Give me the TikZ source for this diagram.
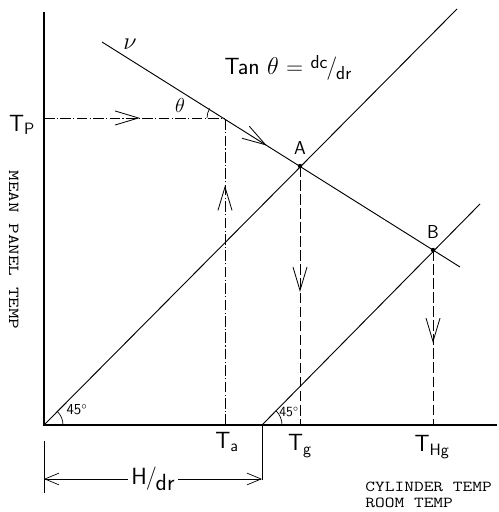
\documentclass[tikz,border=0pt]{standalone}
\usetikzlibrary{arrows.meta,decorations.markings}
\begin{document}
\begin{tikzpicture}[x=0.03cm,y=0.03cm,
      axis/.style={line width=1.1pt},
      curve/.style={line width=.8pt},
      proj/.style={line width=.7pt, dash pattern=on 9pt off 2pt on 1pt off 2pt},
      drop/.style={line width=.8pt, dash pattern=on 9pt off 3pt},
      lbl/.style={font=\fontsize{20}{22}\selectfont\sffamily},
      pt/.style={font=\fontsize{16}{18}\selectfont\sffamily},
      type/.style={font=\fontsize{13}{15}\selectfont\ttfamily, anchor=west},
      midarrow/.style={postaction={decorate,decoration={markings,
        mark=at position #1 with {\arrow{Straight Barb[length=20pt,width=12pt,line width=.7pt]}}}}}]
      \useasboundingbox (0,0) rectangle (498,512);
      \fill[white] (0,0) rectangle (498,512);

      % axes and key points
      \coordinate (O) at (44,87);
      \coordinate (ytop) at (44,500);
      \coordinate (xend) at (497,87);
      \coordinate (P) at (225,394);
      \coordinate (A) at (300,346);
      \coordinate (B) at (433,262);
      \coordinate (G) at (262,87);
      \coordinate (Ta) at (225,87);
      \coordinate (Tg) at (300,87);
      \coordinate (THg) at (433,87);
      \coordinate (Tp) at (44,394);
      \coordinate (vstart) at (102,470);
      \coordinate (vend) at (460,245);
      \coordinate (diagA) at (457,503);
      \coordinate (diagB) at (480,308);

      \draw[axis] (ytop) -- (O) -- (xend);

      % sloped lines
      \draw[curve, midarrow=.46] (vstart) -- (vend);
      \draw[curve] (O) -- (diagA);
      \draw[curve] (G) -- (diagB);

      % projections
      \draw[proj, midarrow=.53] (Tp) -- (P);
      \draw[proj, midarrow=.78] (Ta) -- (P);
      \draw[drop, midarrow=.486] (A) -- (Tg);
      \draw[drop, midarrow=.531] (B) -- (THg);
      \fill (A) circle (2.2);
      \fill (B) circle (2.2);

      % angles
      \draw[line width=.6pt] ([shift={(180:18)}]P) arc (180:148:18);
      \draw[line width=.6pt] ([shift={(0:19)}]O) arc (0:45:19);
      \draw[line width=.6pt] ([shift={(0:20)}]G) arc (0:45:20);
      \node[pt] (theta) at (180,407) {$\theta$};
      \node[font=\fontsize{13}{15}\selectfont\sffamily] (angO) at (77,102) {45$^\circ$};
      \node[font=\fontsize{12}{14}\selectfont\sffamily] (angG) at (289,100) {45$^\circ$};

      % labels
      \node[lbl] (lTp) at (22,387) {T\textsubscript{P}};
      \node[lbl] (lnu) at (130,468) {$\nu$};
      \node[lbl] (ltan) at (288,444)
        {Tan $\theta$ = \raisebox{5pt}{\fontsize{16}{18}\selectfont dc}\kern-1pt/\kern-1pt\raisebox{-4pt}{\fontsize{16}{18}\selectfont dr}};
      \node[pt] (lA) at (300,364) {A};
      \node[pt] (lB) at (433,280) {B};
      \node[lbl] (lTa) at (227,70) {T\textsubscript{a}};
      \node[lbl] (lTg) at (300,66) {T\textsubscript{g}};
      \node[lbl] (lTHg) at (432,65) {T\textsubscript{Hg}};
      \node[type, rotate=-90, anchor=center] (lmean) at (14,262) {\scalebox{1.35}[1]{MEAN PANEL TEMP}};
      \node[type, inner sep=1pt] (lcyl) at (364,25) {\scalebox{1.24}[1]{CYLINDER TEMP}};
      \node[type, inner sep=1pt] (lroom) at (364,9) {\scalebox{1.24}[1]{ROOM TEMP}};

      % H/dr dimension
      \coordinate (hl1) at (44,71);
      \coordinate (hl2) at (44,19);
      \coordinate (hr2) at (262,32);
      \draw[line width=.5pt] (hl1) -- (hl2);
      \draw[line width=.5pt] (G) -- (hr2);
      \draw[line width=.6pt, {Straight Barb[length=12pt,width=10pt]}-{Straight Barb[length=12pt,width=10pt]}]
        (44,33) -- node[lbl, fill=white, inner sep=3pt] (lH) {H\kern-1pt/\kern-1pt\raisebox{-5pt}{dr}} (262,33);
    \end{tikzpicture}
\end{document}
